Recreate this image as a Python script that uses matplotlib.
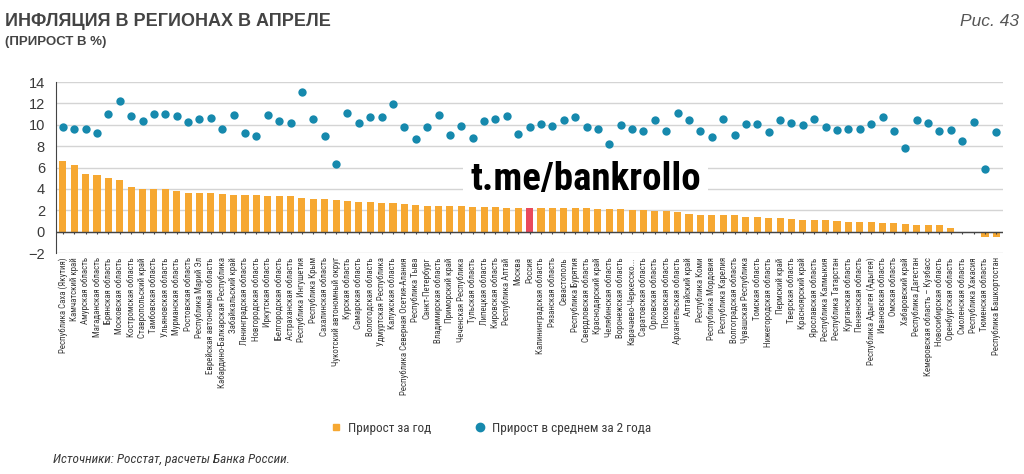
import numpy as np
import matplotlib.pyplot as plt
from matplotlib import font_manager
from matplotlib.lines import Line2D

# regions, sorted by the annual growth
regions = ['Республика Саха (Якутия)', 'Камчатский край', 'Амурская область', 'Магаданская область',
           'Брянская область', 'Московская область', 'Костромская область', 'Ставропольский край',
           'Тамбовская область', 'Ульяновская область', 'Мурманская область', 'Ростовская область',
           'Республика Марий Эл', 'Еврейская автономная область', 'Кабардино-Балкарская Республика',
           'Забайкальский край', 'Ленинградская область', 'Новгородская область', 'Иркутская область',
           'Белгородская область', 'Астраханская область', 'Республика Ингушетия', 'Республика Крым',
           'Сахалинская область', 'Чукотский автономный округ', 'Курская область', 'Самарская область',
           'Вологодская область', 'Удмуртская Республика', 'Калужская область',
           'Республика Северная Осетия-Алания', 'Республика Тыва', 'Санкт-Петербург',
           'Владимирская область', 'Приморский край', 'Чеченская Республика', 'Тульская область',
           'Липецкая область', 'Кировская область', 'Республика Алтай', 'Москва', 'Россия',
           'Калининградская область', 'Рязанская область', 'Севастополь', 'Республика Бурятия',
           'Свердловская область', 'Краснодарский край', 'Челябинская область', 'Воронежская область',
           'Карачаево-Черкесско...', 'Саратовская область', 'Орловская область', 'Псковская область',
           'Архангельская область', 'Алтайский край', 'Республика Коми', 'Республика Мордовия',
           'Республика Карелия', 'Волгоградская область', 'Чувашская Республика', 'Томская область',
           'Нижегородская область', 'Пермский край', 'Тверская область', 'Красноярский край',
           'Ярославская область', 'Республика Калмыкия', 'Республика Татарстан', 'Курганская область',
           'Пензенская область', 'Республика Адыгея (Адыгея)', 'Ивановская область', 'Омская область',
           'Хабаровский край', 'Республика Дагестан', 'Кемеровская область – Кузбасс',
           'Новосибирская область', 'Оренбургская область', 'Смоленская область', 'Республика Хакасия',
           'Тюменская область', 'Республика Башкортостан']

# growth over the year, %
yoy = [6.6, 6.2, 5.4, 5.3, 5.0, 4.8, 4.2, 4.0, 4.0, 4.0, 3.8, 3.6, 3.6, 3.6, 3.5, 3.4, 3.4,
       3.4, 3.3, 3.3, 3.3, 3.2, 3.1, 3.1, 3.0, 2.85, 2.8, 2.75, 2.7, 2.65, 2.55, 2.5, 2.45, 2.4,
       2.38, 2.36, 2.33, 2.3, 2.28, 2.26, 2.23, 2.23, 2.23, 2.23, 2.2, 2.2, 2.18, 2.15, 2.12, 2.1,
       2.05, 2.0, 1.95, 1.92, 1.86, 1.67, 1.61, 1.61, 1.61, 1.52, 1.42, 1.36, 1.3, 1.24, 1.18,
       1.11, 1.08, 1.05, 0.99, 0.95, 0.93, 0.87, 0.8, 0.8, 0.74, 0.62, 0.62, 0.59, 0.31, 0.02,
       0.0, -0.45, -0.5]

# average growth over 2 years, %
avg2y = [9.75, 9.63, 9.63, 9.23, 11.02, 12.26, 10.8, 10.37, 11.02, 11.02, 10.8, 10.22, 10.56,
         10.65, 9.63, 10.87, 9.23, 8.98, 10.93, 10.4, 10.15, 13.1, 10.5, 8.98, 6.35, 11.08,
         10.12, 10.71, 10.77, 11.92, 9.81, 8.67, 9.75, 10.93, 9.07, 9.85, 8.76, 10.31, 10.5,
         10.84, 9.16, 9.78, 10.06, 9.91, 10.46, 10.77, 9.75, 9.6, 8.24, 9.94, 9.63, 9.38, 10.46,
         9.38, 11.08, 10.46, 9.38, 8.82, 10.53, 9.07, 10.06, 10.06, 9.32, 10.46, 10.15, 9.94,
         10.56, 9.81, 9.53, 9.6, 9.6, 10.09, 10.71, 9.38, 7.83, 10.46, 10.15, 9.44, 9.53, 8.45,
         10.22, 5.91, 9.29]

orange = '#F6A832'
red = '#E9495C'
blue = '#1689AD'
grey = '#3A3A3A'

# pick a narrow font if there is one
installed = {f.name for f in font_manager.fontManager.ttflist}
narrow = 'Liberation Sans'
for name in ['Liberation Sans Narrow', 'Roboto Condensed', 'DejaVu Sans Condensed', 'Open Sans Condensed']:
    if name in installed:
        narrow = name
        break
plt.rcParams['font.family'] = ['Liberation Sans', 'DejaVu Sans']

x = np.arange(len(regions))
bar_colors = [red if r == 'Россия' else orange for r in regions]

fig = plt.figure(figsize=(10.24, 4.74), dpi=100)
ax = fig.add_axes([0.0547, 0.466, 0.925, 0.361])

ax.bar(x, yoy, width=0.62, color=bar_colors, zorder=2)
ax.scatter(x, avg2y, s=36, color=blue, zorder=3, linewidths=0)

ax.set_xlim(-0.6, len(regions) - 0.4)
ax.set_ylim(-2, 14)
ax.set_yticks(np.arange(-2, 15, 2))
ax.yaxis.grid(True, color='#D4D4D4', linewidth=1, zorder=0)
ax.axhline(0, color='#444444', linewidth=1, zorder=2)
ax.vlines(x, -0.25, 0, color='#444444', linewidth=0.8, zorder=2)

ax.set_xticks(x)
ax.set_xticklabels(regions, rotation=90, fontsize=6.4, color=grey,
                   family=[narrow, 'DejaVu Sans'])
ax.tick_params(axis='x', length=0, pad=3)
ax.tick_params(axis='y', length=0, labelsize=10.5, colors=grey, pad=8)
for s in ['top', 'right', 'bottom']:
    ax.spines[s].set_visible(False)
ax.spines['left'].set_color('#444444')

# watermark
ax.text(45.9, 4.85, 't.me/bankrollo', fontsize=28, color='black', ha='center', va='center',
        family=[narrow, 'DejaVu Sans'], fontweight='bold', zorder=4,
        bbox=dict(facecolor='white', edgecolor='none', pad=5))

fig.text(0.005, 0.955, 'ИНФЛЯЦИЯ В РЕГИОНАХ В АПРЕЛЕ', fontsize=13, fontweight='bold',
         color='#444444', va='center')
fig.text(0.005, 0.912, '(ПРИРОСТ В %)', fontsize=9.5, fontweight='bold', color='#444444', va='center')
fig.text(0.995, 0.955, 'Рис. 43', fontsize=12.5, style='italic', color='#555555',
         ha='right', va='center')
fig.text(0.052, 0.03, 'Источники: Росстат, расчеты Банка России.', fontsize=9.5,
         style='italic', color=grey, va='center', family=[narrow, 'DejaVu Sans'])

handles = [Line2D([], [], marker='s', linestyle='', color=orange, markersize=5),
           Line2D([], [], marker='o', linestyle='', color=blue, markersize=6)]
fig.legend(handles, ['Прирост за год', 'Прирост в среднем за 2 года'], loc='center',
           bbox_to_anchor=(0.479, 0.097), ncol=2, frameon=False,
           prop={'family': [narrow, 'DejaVu Sans'], 'size': 9.5},
           columnspacing=3.2, handletextpad=0.4, handlelength=1.0, labelcolor=grey)

fig.savefig('out.png', dpi=100)
